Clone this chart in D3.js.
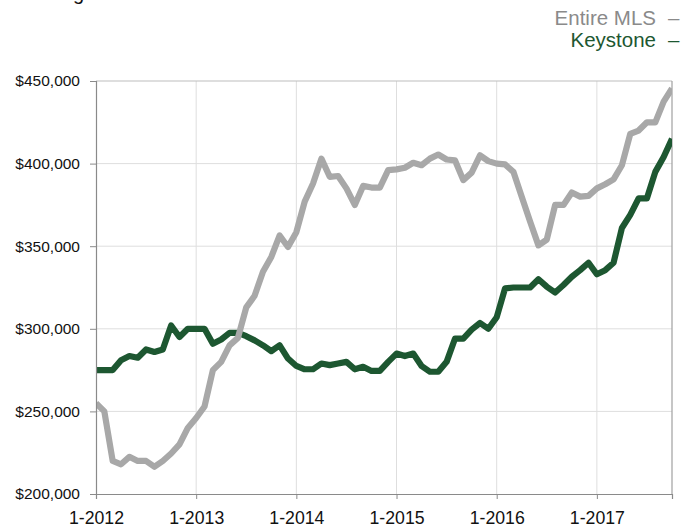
<!DOCTYPE html>
<html>
<head>
<meta charset="utf-8">
<script src="https://cdn.jsdelivr.net/npm/d3@7"></script>
<style>
  html, body { margin: 0; padding: 0; background: #fff; }
  svg { display: block; font-family: "Liberation Sans", Arial, Helvetica, sans-serif; }
</style>
</head>
<body>
<svg id="chart" width="695" height="527"></svg>
<script>
// Month index 0 = Jan 2012 ... 69 = Oct 2017
const months = d3.range(0, 70);
const entireMLS = [
  255000, 250000, 220000, 218000, 222500, 220000, 220000, 216500, 220000, 224500, 230000, 240000,
  246000, 253000, 275000, 280000, 290000, 294500, 313000, 320000, 334500, 343500, 356500, 349500,
  358500, 377000, 388000, 403000, 392000, 392500, 385000, 375000, 386500, 385500, 385500, 396000,
  396500, 397500, 400500, 399000, 403000, 405500, 402500, 402000, 390000, 394500, 405000, 401500,
  400000, 399500, 395000, 380000, 365000, 350500, 354000, 375000, 375000, 382500, 380000, 380500,
  385000, 387500, 390500, 399000, 418000, 420000, 425000, 425000, 437500, 445500
];
const keystone = [
  275000, 275000, 275000, 281000, 283500, 282500, 287500, 286000, 287500, 302000, 295000, 300000,
  300000, 300000, 291000, 293500, 297500, 297500, 295500, 293000, 290000, 286500, 290000, 282000,
  277500, 275500, 275500, 279000, 278000, 279000, 280000, 275500, 277000, 274500, 274500, 280000,
  285000, 283500, 285000, 277500, 274000, 274000, 280000, 294000, 294000, 299500, 303500, 300000,
  307000, 324500, 325000, 325000, 325000, 330000, 325500, 322000, 326500, 331500, 335500, 340000,
  333000, 335500, 340000, 361000, 369000, 379000, 379000, 395000, 404000, 415000
];
const xTickValues = [0, 12, 24, 36, 48, 60];
const xTickLabels = ["1-2012", "1-2013", "1-2014", "1-2015", "1-2016", "1-2017"];
const yTickValues = [200000, 250000, 300000, 350000, 400000, 450000];
const seriesNames = ["Entire MLS", "Keystone"];
const seriesColors = ["#a8a8a8", "#1d5731"];
const legendTextColors = ["#8a8a8a", "#1d5731"];
const titleText = "Average Sales Price";

(function () {
const svg = d3.select("#chart");
const mLeft = 96, mRight = 672, mTop = 81, mBottom = 494;

const x = d3.scaleLinear().domain([0, 69]).range([mLeft, mRight]);
const y = d3.scaleLinear().domain([200000, 450000]).range([mBottom, mTop]);

// title (mostly cut off at the top, as in the reference)
svg.append("text").attr("x", 21).attr("y", -0.5)
  .attr("font-size", 20).attr("fill", "#111").text(titleText);

// grid
const grid = svg.append("g");
grid.selectAll("line.gy").data(yTickValues.filter(v => v > 200000 && v < 450000)).join("line")
  .attr("x1", mLeft).attr("x2", mRight).attr("y1", d => y(d)).attr("y2", d => y(d))
  .attr("stroke", "#dedede").attr("stroke-width", 1);
grid.selectAll("line.gx").data(xTickValues.filter(v => v > 0)).join("line")
  .attr("x1", d => x(d)).attr("x2", d => x(d)).attr("y1", mTop).attr("y2", mBottom)
  .attr("stroke", "#dedede").attr("stroke-width", 1);

// top and right border
svg.append("line").attr("x1", mLeft).attr("x2", mRight).attr("y1", mTop).attr("y2", mTop)
  .attr("stroke", "#bdbdbd").attr("stroke-width", 1.2);
svg.append("line").attr("x1", mRight).attr("x2", mRight).attr("y1", mTop).attr("y2", mBottom)
  .attr("stroke", "#a0a0a0").attr("stroke-width", 1.2);

// lines
svg.append("clipPath").attr("id", "clip").append("rect")
  .attr("x", mLeft).attr("y", 0).attr("width", mRight - mLeft).attr("height", 527);
const lineGen = d3.line().x((d, i) => x(months[i])).y(d => y(d));
const lines = svg.append("g").attr("clip-path", "url(#clip)");
lines.append("path").datum(keystone).attr("d", lineGen)
  .attr("fill", "none").attr("stroke", seriesColors[1]).attr("stroke-width", 6.2)
  .attr("stroke-linejoin", "round");
lines.append("path").datum(entireMLS).attr("d", lineGen)
  .attr("fill", "none").attr("stroke", seriesColors[0]).attr("stroke-width", 6.2)
  .attr("stroke-linejoin", "round");

// axes
const yAxis = d3.axisLeft(y).tickValues(yTickValues).tickSize(6).tickPadding(10)
  .tickFormat(d => "$" + d3.format(",")(d));
const gy = svg.append("g").attr("transform", `translate(${mLeft},0)`).call(yAxis);
gy.select(".domain").attr("stroke", "#8a8a8a").attr("stroke-width", 1.2);
gy.selectAll(".tick line").attr("stroke", "#8a8a8a");
gy.selectAll(".tick text").attr("font-size", 15.5).attr("fill", "#111")
  .attr("font-family", "'Liberation Sans', Arial, sans-serif");

const xAxis = d3.axisBottom(x).tickValues(xTickValues).tickSize(5).tickPadding(12)
  .tickFormat((d, i) => xTickLabels[i]);
const gx = svg.append("g").attr("transform", `translate(0,${mBottom})`).call(xAxis);
gx.select(".domain").attr("stroke", "#8a8a8a").attr("stroke-width", 1.2);
gx.selectAll(".tick line").attr("stroke", "#8a8a8a");
gx.selectAll(".tick text").attr("font-size", 17.7).attr("fill", "#111")
  .attr("font-family", "'Liberation Sans', Arial, sans-serif");

// legend
const legend = svg.append("g");
const legendY = [25, 47];
seriesNames.forEach((name, i) => {
  legend.append("text").attr("x", 656).attr("y", legendY[i]).attr("text-anchor", "end")
    .attr("font-size", 20.5).attr("fill", legendTextColors[i]).text(name);
  legend.append("text").attr("x", 668).attr("y", legendY[i]).attr("text-anchor", "start")
    .attr("font-size", 20.5).attr("fill", legendTextColors[i]).text("\u2013");
});
})();
</script>
</body>
</html>
